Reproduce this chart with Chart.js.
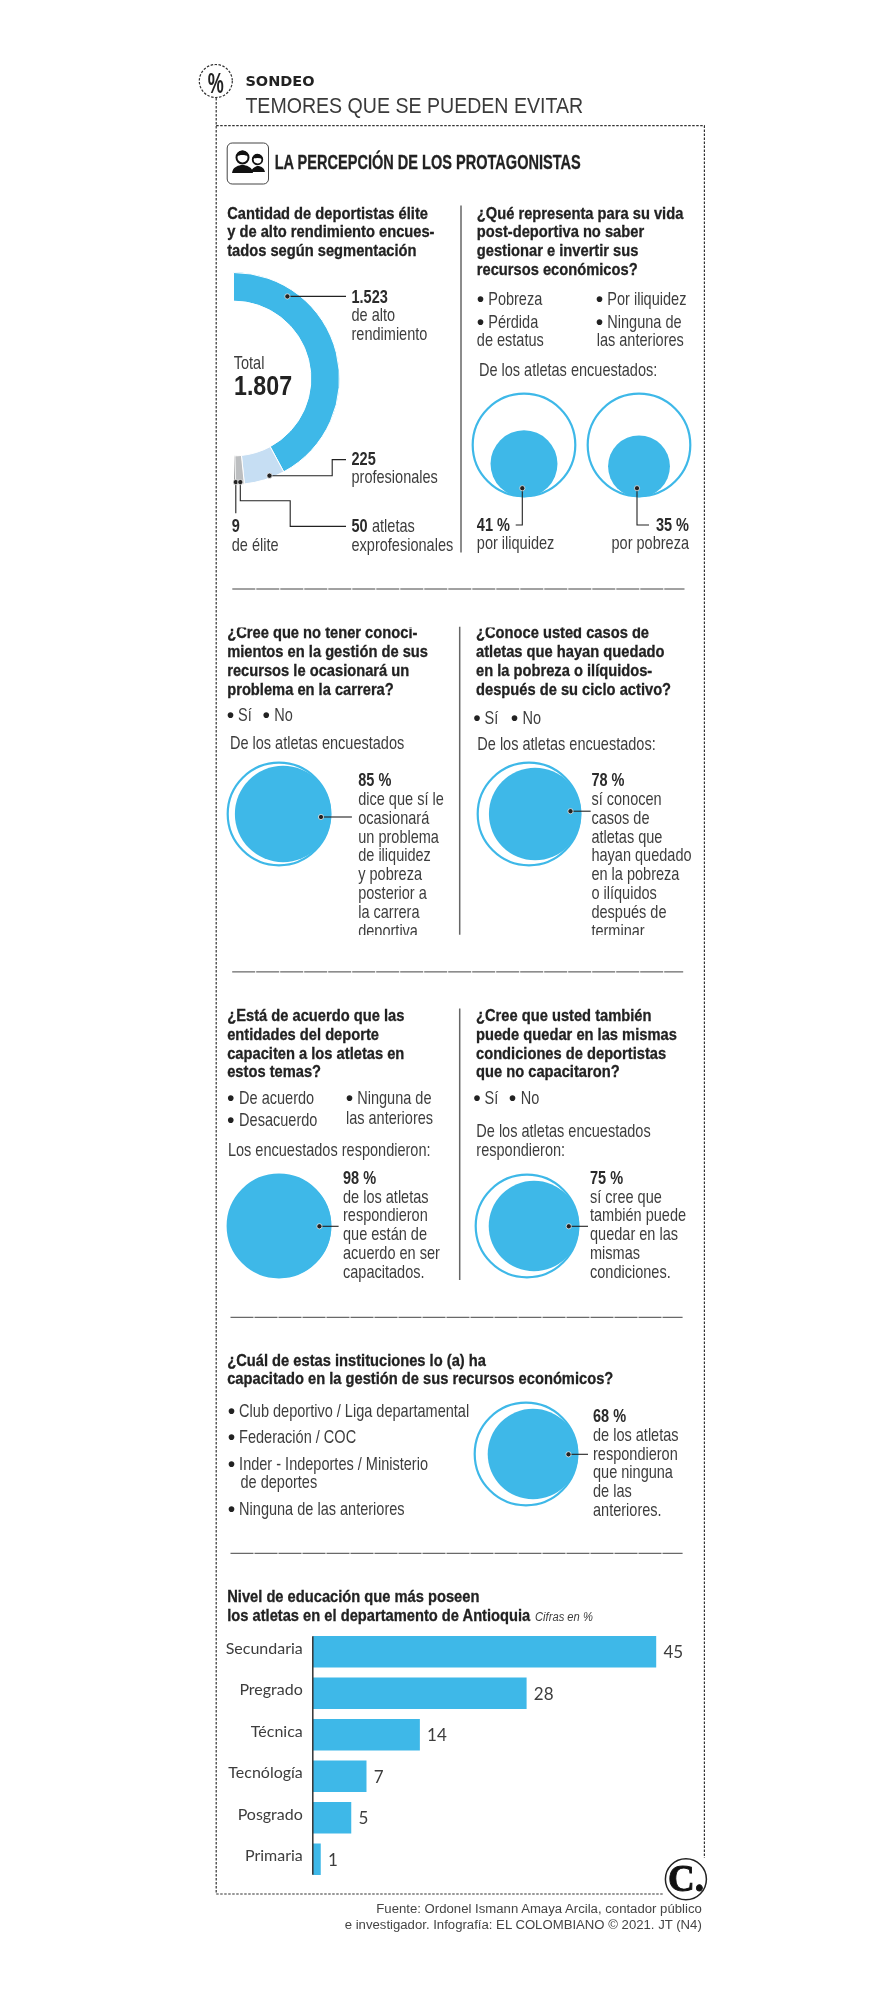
<!DOCTYPE html>
<html lang="es">
<head>
<meta charset="utf-8">
<title>Temores que se pueden evitar</title>
<script src="https://cdn.jsdelivr.net/npm/chart.js@4"></script>
<style>
    html, body { margin: 0; padding: 0; background: #fff; }
    #page { position: relative; width: 878px; height: 2000px; overflow: hidden; }
    #page canvas { position: absolute; }
    #overlay { position: absolute; left: 0; top: 0; pointer-events: none; }
    text { font-family: "Liberation Sans", sans-serif; fill: #3d3d3d; font-size: 17.5px; }
    .q { font-weight: 700; fill: #222; stroke: #222; stroke-width: 0.3px; font-size: 17px; }
    .n { font-weight: 700; fill: #2b2b2b; font-size: 17.5px; }
    .bullet { font-weight: 700; fill: #222; font-size: 20px; }
    .head { font-weight: 700; fill: #222; stroke: #222; stroke-width: 0.3px; font-size: 20.5px; }
    .kicker { font-family: "DejaVu Sans", sans-serif; font-weight: 700; fill: #222; font-size: 14.5px; }
    .title { fill: #3a3a3a; font-size: 22.5px; }
    .total { font-weight: 700; fill: #222; font-size: 27px; }
    .note { font-style: italic; font-size: 13.5px; }
    .source { fill: #444; font-size: 13.5px; }
    .logo { font-family: "Liberation Serif", serif; font-weight: 700; fill: #111; stroke: #111; stroke-width: 0.9px; font-size: 37px; }
    .pct { font-weight: 700; fill: #222; font-size: 30px; }
</style>
</head>
<body>
<div id="page">
    <canvas id="segments" width="107" height="213" style="left:233px;top:272px"></canvas>
    <canvas id="c41" width="110" height="110" style="left:468.9px;top:390.4px"></canvas>
    <canvas id="c35" width="110" height="110" style="left:583.8px;top:390.4px"></canvas>
    <canvas id="c85" width="110" height="110" style="left:223.8px;top:758.6px"></canvas>
    <canvas id="c78" width="110" height="110" style="left:473.6px;top:758.6px"></canvas>
    <canvas id="c98" width="110" height="110" style="left:223.8px;top:1171.3px"></canvas>
    <canvas id="c75" width="110" height="110" style="left:471.8px;top:1171.3px"></canvas>
    <canvas id="c68" width="110" height="110" style="left:471px;top:1399.3px"></canvas>
    <canvas id="education" width="494" height="249" style="left:200px;top:1631px"></canvas>
    <svg id="overlay" width="878" height="2000" xmlns="http://www.w3.org/2000/svg"></svg>
</div>

<script>
const segmentNames = ['de alto rendimiento', 'profesionales', 'atletas exprofesionales', 'de élite'];
const segmentCounts = [1523, 225, 50, 9];
const segmentColors = ['#3eb8e8', '#c6def3', '#bcbec0', '#58595b'];

const circleIds = ['c41', 'c35', 'c85', 'c78', 'c98', 'c75', 'c68'];
// El circulo del 68 % esta dibujado en el original con el area de un 75 %
const circleAreas = [41, 35, 85, 78, 98, 75, 75];
const circleSideX = [0, 0, 1, 1, 1, 1, 1];
const circleSideY = [-1, -1, 0, 0, 0, 0, 0];

const educationLevels = ['Secundaria', 'Pregrado', 'Técnica', 'Tecnólogía', 'Posgrado', 'Primaria'];
const educationShares = [45, 28, 14, 7, 5, 1];

const BLUE = '#3eb8e8';
const CIRCLE_RADIUS = 52.3;
const BAR_FONT = 'Lato, "Liberation Sans", sans-serif';

Chart.defaults.animation = false;
Chart.defaults.responsive = false;
Chart.defaults.plugins.legend.display = false;
Chart.defaults.plugins.tooltip.enabled = false;

// ---- Semicirculo de segmentacion
new Chart(document.getElementById('segments'), {
    type: 'doughnut',
    data: {
        labels: segmentNames,
        datasets: [{ data: segmentCounts, backgroundColor: segmentColors, borderColor: '#fff', borderWidth: 1 }]
    },
    options: { rotation: 0, circumference: 180, cutout: '73%' }
});

// ---- Circulos de porcentaje: el area interna es proporcional al valor
circleIds.forEach((id, i) => {
    const inner = Math.sqrt(circleAreas[i] / 100);
    const gap = 1 - inner;
    const range = { min: -1.0516, max: 1.0516, display: false };
    new Chart(document.getElementById(id), {
        type: 'bubble',
        data: {
            datasets: [
                {
                    data: [{ x: 0, y: 0, r: CIRCLE_RADIUS - 1 }],
                    backgroundColor: 'rgba(0,0,0,0)', borderColor: BLUE, borderWidth: 2.2, clip: false
                },
                {
                    data: [{ x: circleSideX[i] * gap, y: circleSideY[i] * gap, r: CIRCLE_RADIUS * inner }],
                    backgroundColor: BLUE, borderWidth: 0, clip: false
                }
            ]
        },
        options: { layout: { autoPadding: false }, scales: { x: range, y: range } }
    });
});

// ---- Barras de nivel de educacion
const barExtras = {
    id: 'barExtras',
    afterDatasetsDraw(chart) {
        const { ctx } = chart;
        const bars = chart.getDatasetMeta(0).data;
        const first = bars[0];
        const last = bars[bars.length - 1];

        // eje vertical, solo del alto de las barras
        ctx.save();
        ctx.strokeStyle = '#333';
        ctx.lineWidth = 1.5;
        ctx.beginPath();
        ctx.moveTo(chart.chartArea.left, first.y - first.height / 2);
        ctx.lineTo(chart.chartArea.left, last.y + last.height / 2);
        ctx.stroke();

        // valores al final de cada barra
        ctx.fillStyle = '#3d3d3d';
        ctx.font = '17px ' + BAR_FONT;
        ctx.textBaseline = 'middle';
        bars.forEach((bar, i) => ctx.fillText(educationShares[i], bar.x + 7.5, bar.y + 1));
        ctx.restore();
    }
};

new Chart(document.getElementById('education'), {
    type: 'bar',
    data: {
        labels: educationLevels,
        datasets: [{ data: educationShares, backgroundColor: BLUE, barThickness: 31 }]
    },
    options: {
        indexAxis: 'y',
        scales: {
            x: { display: false, min: 0, max: 50 },
            y: {
                afterFit(scale) {
                    scale.width = 112.8;
                    scale.paddingTop = 0;
                    scale.paddingBottom = 0;
                },
                grid: { display: false, tickLength: 10 },
                border: { display: false },
                ticks: {
                    color: '#3d3d3d',
                    padding: 0,
                    labelOffset: -3,
                    font: { family: BAR_FONT, size: 16 }
                }
            }
        }
    },
    plugins: [barExtras]
});

// ---- Textos, lineas y adornos
const svg = document.getElementById('overlay');
const NS = 'http://www.w3.org/2000/svg';
// No hay fuente condensada instalada: se angosta cada estilo en horizontal
const TEXT_SQUEEZE = { q: 0.865, head: 0.71, title: 0.87, total: 0.86, kicker: 1, source: 0.975, logo: 1, pct: 0.6, bullet: 1 };

function el(tag, attrs, parent) {
    const node = document.createElementNS(NS, tag);
    Object.entries(attrs).forEach(([k, v]) => node.setAttribute(k, v));
    (parent || svg).appendChild(node);
    return node;
}
function text(x, y, str, cls, anchor, parent) {
    const squeeze = TEXT_SQUEEZE[cls] || 0.83;
    const node = el('text', {
        transform: `translate(${x} ${y}) scale(${squeeze} 1)`,
        class: cls || '',
        'text-anchor': anchor || 'start'
    }, parent);
    node.textContent = str;
}
function block(x, y, step, lines, cls, parent) {
    lines.forEach((line, i) => text(x, y + step * i, line, cls, 'start', parent));
}
function bullet(x, y, parent) { text(x, y + 1, '•', 'bullet', 'middle', parent); }
function leader(d) { el('path', { d, fill: 'none', stroke: '#222', 'stroke-width': 1.1 }); }
function dot(x, y) { el('circle', { cx: x, cy: y, r: 2.6, fill: '#222', stroke: '#fff', 'stroke-width': 0.7 }); }
function rule(y, x1, x2) {
    el('line', { x1, x2, y1: y, y2: y, stroke: '#444', 'stroke-width': 1, 'stroke-dasharray': '23 1' });
}
function divider(x, y1, y2) {
    el('line', { x1: x, x2: x, y1, y2, stroke: '#666', 'stroke-width': 1.5 });
}

// marco punteado
const FRAME = { fill: 'none', stroke: '#333', 'stroke-width': 1.2, 'stroke-dasharray': '2.5 1.5' };
el('path', Object.assign({ d: 'M216.2 98V1894H664' }, FRAME));
el('path', Object.assign({ d: 'M216.2 125.7H704.4V1858' }, FRAME));
el('circle', Object.assign({ cx: 215.8, cy: 81, r: 16.5 }, FRAME));
text(215.8, 92.5, '%', 'pct', 'middle');

text(245.4, 85.7, 'SONDEO', 'kicker');
text(245.4, 113, 'TEMORES QUE SE PUEDEN EVITAR', 'title');

// icono de personas
el('rect', { x: 227.2, y: 143, width: 41.3, height: 41, rx: 5, fill: '#fff', stroke: '#444', 'stroke-width': 1 });
el('path', { d: 'M232 173c1-6 5-7 9-8h3c4 1 8 2 9 8z', fill: '#111' });
el('path', { d: 'M251 172c1-4 4-5 6-6h2c3 1 5 2 6 6z', fill: '#111' });
el('circle', { cx: 242.5, cy: 157.5, r: 6, fill: '#fff', stroke: '#111', 'stroke-width': 2 });
el('circle', { cx: 257.5, cy: 159.5, r: 4.8, fill: '#fff', stroke: '#111', 'stroke-width': 1.8 });
el('path', { d: 'M236.5 156.5a6 6 0 0 1 12 0c-3-2-9-2-12 0z', fill: '#111' });
el('path', { d: 'M252.7 159a4.8 4.8 0 0 1 9.6 0c-3-1.5-7-1.5-9.6 0z', fill: '#111' });
text(274.7, 169.3, 'LA PERCEPCIÓN DE LOS PROTAGONISTAS', 'head');

// fila 1, izquierda
block(227.2, 218.6, 18.55, [
    'Cantidad de deportistas élite',
    'y de alto rendimiento encues-',
    'tados según segmentación'
], 'q');
text(233.7, 368.6, 'Total');
text(234, 395.4, '1.807', 'total');
text(351.5, 303.2, '1.523', 'n');
block(351.5, 321.4, 19, ['de alto', 'rendimiento']);
text(351.5, 465, '225', 'n');
text(351.5, 483.2, 'profesionales');
text(351.5, 532.1, '50', 'n');
text(372, 532.1, 'atletas');
text(351.5, 551, 'exprofesionales');
text(231.7, 532.1, '9', 'n');
text(231.7, 551, 'de élite');
leader('M287.4 296.4H346');
leader('M269.5 475.7H332.2V459.6H346');
leader('M235.8 482.1V513.2');
leader('M240.3 482.1V500.7H290.2V526.4H346');
dot(287.4, 296.4); dot(269.5, 475.7); dot(235.8, 482.1); dot(240.3, 482.1);

divider(461, 205.4, 552.5);

// fila 1, derecha
block(476.8, 218.6, 18.8, [
    '¿Qué representa para su vida',
    'post-deportiva no saber',
    'gestionar e invertir sus',
    'recursos económicos?'
], 'q');
bullet(480.6, 305.4); text(488.2, 305.4, 'Pobreza');
bullet(599.4, 305.4); text(607.3, 305.4, 'Por iliquidez');
bullet(480.6, 327.5); text(488.2, 327.5, 'Pérdida');
text(476.8, 346.4, 'de estatus');
bullet(599.4, 327.5); text(607.3, 327.5, 'Ninguna de');
text(596.7, 346.4, 'las anteriores');
text(478.9, 375.7, 'De los atletas encuestados:');
text(476.8, 531, '41 %', 'n');
text(476.8, 548.6, 'por iliquidez');
text(689, 531, '35 %', 'n', 'end');
text(689, 548.6, 'por pobreza', '', 'end');
leader('M522.3 488.2V525H515.7');
leader('M637 488.2V525H649');
dot(522.3, 488.2); dot(637, 488.2);

rule(589, 232.3, 684.5);

// fila 2: el original corta arriba y abajo los textos
el('rect', { x: 220, y: 627.5, width: 478, height: 307.5 }, el('clipPath', { id: 'row2' }, el('defs', {})));
const row2 = el('g', { 'clip-path': 'url(#row2)' });
block(227.2, 638, 18.85, [
    '¿Cree que no tener conoci-',
    'mientos en la gestión de sus',
    'recursos le ocasionará un',
    'problema en la carrera?'
], 'q', row2);
block(476, 638, 18.85, [
    '¿Conoce usted casos de',
    'atletas que hayan quedado',
    'en la pobreza o ilíquidos-',
    'después de su ciclo activo?'
], 'q', row2);
bullet(230.5, 721.4, row2); text(238.1, 721.4, 'Sí', '', 'start', row2);
bullet(266.3, 721.4, row2); text(274.3, 721.4, 'No', '', 'start', row2);
bullet(477, 724, row2); text(484.6, 724, 'Sí', '', 'start', row2);
bullet(514.4, 724, row2); text(522.4, 724, 'No', '', 'start', row2);
text(229.9, 748.7, 'De los atletas encuestados', '', 'start', row2);
text(477.3, 749.6, 'De los atletas encuestados:', '', 'start', row2);
text(358.2, 786.2, '85 %', 'n', 'start', row2);
block(358.2, 804.9, 18.8, [
    'dice que sí le', 'ocasionará', 'un problema', 'de iliquidez',
    'y pobreza', 'posterior a', 'la carrera', 'deportiva.'
], '', row2);
text(591.4, 786.2, '78 %', 'n', 'start', row2);
block(591.4, 804.9, 18.8, [
    'sí conocen', 'casos de', 'atletas que', 'hayan quedado',
    'en la pobreza', 'o ilíquidos', 'después de', 'terminar.'
], '', row2);
leader('M321 817H351.9');
leader('M570.5 811.2H590.7');
dot(321, 817); dot(570.5, 811.2);
divider(459.7, 626.8, 934.8);

rule(971.9, 232.2, 683.2);

// fila 3
block(227.2, 1021.4, 18.6, [
    '¿Está de acuerdo que las',
    'entidades del deporte',
    'capaciten a los atletas en',
    'estos temas?'
], 'q');
block(476, 1021.4, 18.6, [
    '¿Cree que usted también',
    'puede quedar en las mismas',
    'condiciones de deportistas',
    'que no capacitaron?'
], 'q');
bullet(230.8, 1103.6); text(239.1, 1103.6, 'De acuerdo');
bullet(230.8, 1125.9); text(239.1, 1125.9, 'Desacuerdo');
bullet(349.6, 1103.6); text(357.2, 1103.6, 'Ninguna de');
text(345.9, 1123.7, 'las anteriores');
bullet(477, 1103.6); text(484.6, 1103.6, 'Sí');
bullet(512.4, 1103.6); text(520.7, 1103.6, 'No');
text(227.9, 1155.8, 'Los encuestados respondieron:');
block(476.3, 1137, 18.8, ['De los atletas encuestados', 'respondieron:']);
text(343, 1183.5, '98 %', 'n');
block(343, 1202.7, 18.75, ['de los atletas', 'respondieron', 'que están de', 'acuerdo en ser', 'capacitados.']);
text(590, 1183.5, '75 %', 'n');
block(590, 1202.7, 18.75, ['sí cree que', 'también puede', 'quedar en las', 'mismas', 'condiciones.']);
leader('M319.4 1226.3H338.6');
leader('M568.8 1226.3H588');
dot(319.4, 1226.3); dot(568.8, 1226.3);
divider(459.7, 1008.5, 1279.9);

rule(1317.3, 230.5, 682.6);

// fila 4
block(227.2, 1366, 18, [
    '¿Cuál de estas instituciones lo (a) ha',
    'capacitado en la gestión de sus recursos económicos?'
], 'q');
bullet(231.5, 1416.7); text(239.1, 1416.7, 'Club deportivo / Liga departamental');
bullet(231.5, 1442.7); text(239.1, 1442.7, 'Federación / COC');
bullet(231.5, 1470); text(239.1, 1470, 'Inder - Indeportes / Ministerio');
text(240.5, 1487.7, 'de deportes');
bullet(231.5, 1514.7); text(239.1, 1514.7, 'Ninguna de las anteriores');
text(593, 1421.7, '68 %', 'n');
block(593, 1440.7, 18.85, ['de los atletas', 'respondieron', 'que ninguna', 'de las', 'anteriores.']);
leader('M568.5 1454.3H588');
dot(568.5, 1454.3);

rule(1553.3, 230.5, 682.6);

// fila 5
block(227.2, 1601.7, 19, [
    'Nivel de educación que más poseen',
    'los atletas en el departamento de Antioquia'
], 'q');
text(535, 1620.7, 'Cifras en %', 'note');

// logo y fuente
el('circle', { cx: 685.9, cy: 1879.3, r: 20.5, fill: '#fff', stroke: '#222', 'stroke-width': 1.5 });
text(685.9, 1891, 'C.', 'logo', 'middle');
text(701.8, 1913.3, 'Fuente: Ordonel Ismann Amaya Arcila, contador público', 'source', 'end');
text(701.8, 1929.3, 'e investigador. Infografía: EL COLOMBIANO © 2021. JT (N4)', 'source', 'end');
</script>
</body>
</html>
